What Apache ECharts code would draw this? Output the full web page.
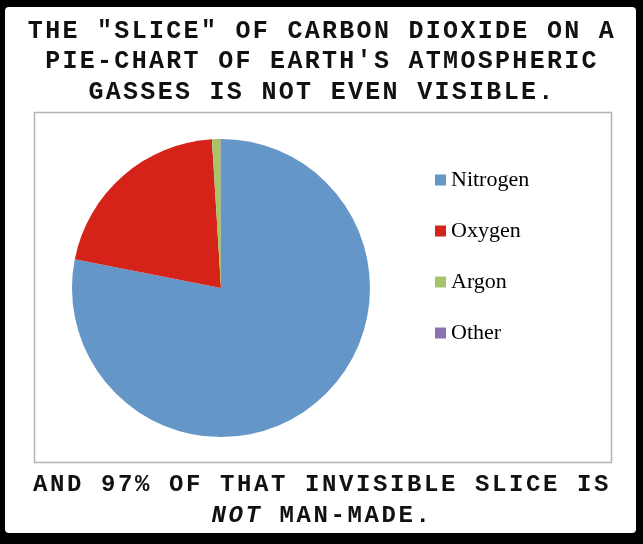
<!DOCTYPE html>
<html>
<head>
<meta charset="utf-8">
<script src="https://cdn.jsdelivr.net/npm/echarts@6/dist/echarts.min.js"></script>
<style>html,body{margin:0;padding:0;background:#000;}#c{width:643px;height:544px;}</style>
</head>
<body>
<div id="c"></div>
<script>
const gases = ['Nitrogen', 'Oxygen', 'Argon', 'Other'];
const shares = [78.08, 20.95, 0.93, 0.04];
const colors = ['#6596c8', '#d5231a', '#a8c46a', '#8a72b0'];
const titleLines = ['THE "SLICE" OF CARBON DIOXIDE ON A', "PIE-CHART OF EARTH'S ATMOSPHERIC", 'GASSES IS NOT EVEN VISIBLE.'];
const footLine1 = 'AND 97% OF THAT INVISIBLE SLICE IS';
const footItalic = 'NOT';
const footRest = 'MAN-MADE.';

// widen monospace caption letters like the Courier original
(function () {
  const proto = CanvasRenderingContext2D.prototype;
  const orig = proto.fillText;
  proto.fillText = function (t, x, y, m) {
    if (this.font && this.font.indexOf('Liberation Mono') >= 0 && 'letterSpacing' in this) {
      const prev = this.letterSpacing;
      this.letterSpacing = this.font.indexOf('25px') >= 0 ? '2.3px' : '2.6px';
      const r = m === undefined ? orig.call(this, t, x, y) : orig.call(this, t, x, y, m);
      this.letterSpacing = prev;
      return r;
    }
    return orig.apply(this, arguments);
  };
})();

const chart = echarts.init(document.getElementById('c'), null, {renderer: 'canvas'});
const mono = '"Liberation Mono", "Courier New", monospace';
function line(text, y, fs, italic) {
  return {
    type: 'text', z: 10,
    style: {x: 322, y: y, text: text, align: 'center', verticalAlign: 'middle',
      font: (italic ? 'italic ' : '') + 'bold ' + fs + 'px ' + mono, fill: '#111'}
  };
}
const textEls = titleLines.map((t, i) => line(t, 31.5 + i * 30.5, 25));
textEls.push(line(footLine1, 485, 24));
// same char count on both pieces so the monospace glyphs line up
const gap = ' ';
textEls.push(line(footItalic + gap + ' '.repeat(footRest.length), 516, 24, true));
textEls.push(line(' '.repeat(footItalic.length) + gap + footRest, 516, 24, false));

chart.setOption({
  backgroundColor: '#000',
  animation: false,
  graphic: [
    {type: 'rect', shape: {x: 5, y: 7, width: 631, height: 526, r: 4}, style: {fill: '#fff'}, z: 0},
    {type: 'rect', shape: {x: 34.5, y: 112.5, width: 577, height: 350}, style: {fill: '#fff', stroke: '#b4b4b4', lineWidth: 1.5}, z: 1}
  ].concat(textEls),
  legend: {
    orient: 'vertical', left: 430, top: 164,
    icon: 'rect', itemWidth: 11, itemHeight: 11, itemGap: 29, itemTextGap: 6,
    textStyle: {fontFamily: '"Liberation Serif", "Times New Roman", serif', fontSize: 22, color: '#000', lineHeight: 22},
    data: gases
  },
  series: [{
    type: 'pie', center: [221, 288], radius: 149, startAngle: 90, clockwise: true,
    label: {show: false}, labelLine: {show: false},
    emphasis: {disabled: true},
    itemStyle: {borderWidth: 0},
    z: 5,
    data: gases.map((g, i) => ({name: g, value: shares[i], itemStyle: {color: colors[i]}}))
  }]
});
</script>
</body>
</html>
